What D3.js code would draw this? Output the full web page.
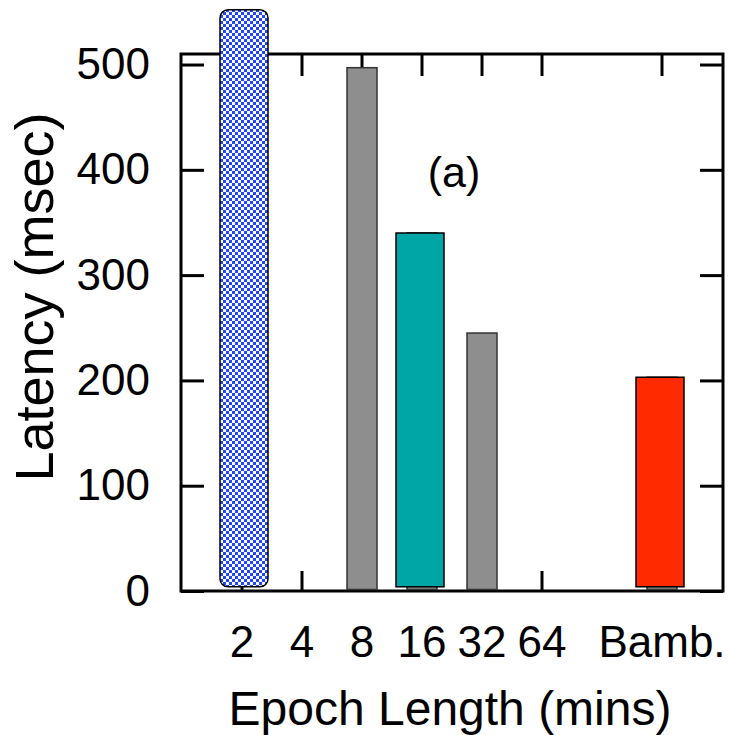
<!DOCTYPE html>
<html>
<head>
<meta charset="utf-8">
<script src="https://cdn.jsdelivr.net/npm/d3@7"></script>
<style>
  body { margin: 0; background: #fff; }
  text { font-family: "Liberation Sans", Arial, Helvetica, sans-serif; fill: #000; }
</style>
</head>
<body>
<div id="chart-area"></div>
<script>
// Epoch length vs latency, panel (a)
const categories = ["2", "4", "8", "16", "32", "64", "gap", "Bamb."]
const tickLabels = ["2", "4", "8", "16", "32", "64", "Bamb."]
const yTicks = [0, 100, 200, 300, 400, 500]

// gray series (all epochs), values behind the coloured bars are hidden
const grayValues = [0, 0, 497, 340, 245, 0, 203]
// highlighted bars
const blueValue = { cat: "2", value: 552 }
const tealValue = { cat: "16", value: 340 }
const redValue = { cat: "Bamb.", value: 203 }

const W = 731, H = 735
const MARGIN = { LEFT: 181, RIGHT: 8, TOP: 54, BOTTOM: 144 }
const WIDTH = W - MARGIN.LEFT - MARGIN.RIGHT
const HEIGHT = H - MARGIN.TOP - MARGIN.BOTTOM

const svg = d3.select("#chart-area").append("svg")
    .attr("width", W)
    .attr("height", H)

// blue checker pattern
const pat = svg.append("defs").append("pattern")
    .attr("id", "checker")
    .attr("width", 6).attr("height", 6)
    .attr("patternUnits", "userSpaceOnUse")
pat.append("rect").attr("width", 6).attr("height", 6).attr("fill", "#fff")
pat.append("rect").attr("width", 3).attr("height", 3).attr("fill", "#1f45ff").attr("shape-rendering", "crispEdges")
pat.append("rect").attr("x", 3).attr("y", 3).attr("width", 3).attr("height", 3).attr("fill", "#1f45ff").attr("shape-rendering", "crispEdges")

const g = svg.append("g")
    .attr("transform", `translate(${MARGIN.LEFT}, ${MARGIN.TOP})`)

const x = d3.scaleBand()
    .domain(categories)
    .range([31, 511])
    .padding(0)

const y = d3.scaleLinear()
    .domain([0, 510])
    .range([HEIGHT, 0])

const cx = d => x(d) + x.bandwidth() / 2

// axes, ticks point inwards
const xCats = categories.filter(c => c !== "gap")

const yLeft = g.append("g")
    .call(d3.axisLeft(y).tickValues(yTicks).tickSizeInner(-23).tickSizeOuter(0).tickPadding(31))
yLeft.select(".domain").remove()
yLeft.selectAll("line").attr("stroke", "#000").attr("stroke-width", 3)
yLeft.selectAll("text").attr("font-size", "44px")

const yRight = g.append("g")
    .attr("transform", `translate(${WIDTH}, 0)`)
    .call(d3.axisRight(y).tickValues(yTicks).tickSizeInner(-23).tickSizeOuter(0).tickFormat(""))
yRight.select(".domain").remove()
yRight.selectAll("line").attr("stroke", "#000").attr("stroke-width", 3)

const xBottom = g.append("g")
    .attr("transform", `translate(0, ${HEIGHT})`)
    .call(d3.axisBottom(x).tickValues(xCats).tickSizeInner(-20).tickSizeOuter(0).tickPadding(35)
        .tickFormat((d, i) => tickLabels[i]))
xBottom.select(".domain").remove()
xBottom.selectAll("line").attr("stroke", "#000").attr("stroke-width", 3)
xBottom.selectAll("text").attr("font-size", "44px")

const xTop = g.append("g")
    .call(d3.axisTop(x).tickValues(xCats).tickSizeInner(-22).tickSizeOuter(0).tickFormat(""))
xTop.select(".domain").remove()
xTop.selectAll("line").attr("stroke", "#000").attr("stroke-width", 3)

// frame
g.append("rect")
    .attr("width", WIDTH)
    .attr("height", HEIGHT)
    .attr("fill", "none")
    .attr("stroke", "#000")
    .attr("stroke-width", 3)

// gray bars
const grayData = xCats.map((c, i) => ({ cat: c, value: grayValues[i] })).filter(d => d.value > 0)
g.selectAll("rect.gray").data(grayData).enter().append("rect")
    .attr("class", "gray")
    .attr("x", d => cx(d.cat) - 15)
    .attr("y", d => y(d.value))
    .attr("width", 30)
    .attr("height", d => HEIGHT - y(d.value) - 1.5)
    .attr("fill", "#8e8e8e")
    .attr("stroke", "#333")
    .attr("stroke-width", 1.5)

// coloured bars sit a little above the baseline
const base = y(4)
const colored = [
    { d: tealValue, fill: "#00a5a5" },
    { d: redValue, fill: "#ff2a00" }
]
g.selectAll("rect.col").data(colored).enter().append("rect")
    .attr("class", "col")
    .attr("x", c => cx(c.d.cat) - 26)
    .attr("y", c => y(c.d.value))
    .attr("width", 48)
    .attr("height", c => base - y(c.d.value))
    .attr("fill", c => c.fill)
    .attr("stroke", "#000")
    .attr("stroke-width", 1.5)

g.append("rect")
    .attr("x", cx(blueValue.cat) - 22)
    .attr("y", y(blueValue.value))
    .attr("width", 48)
    .attr("height", base - y(blueValue.value))
    .attr("rx", 8)
    .attr("fill", "url(#checker)")
    .attr("stroke", "#000")
    .attr("stroke-width", 1.5)

// label (a)
g.append("text")
    .attr("x", cx("16") + 32)
    .attr("y", y(384))
    .attr("font-size", "43px")
    .attr("text-anchor", "middle")
    .text("(a)")

// axis titles
svg.append("text")
    .attr("x", 450)
    .attr("y", 725)
    .attr("font-size", "48px")
    .attr("text-anchor", "middle")
    .text("Epoch Length (mins)")

svg.append("text")
    .attr("transform", "translate(53, 297) rotate(-90)")
    .attr("font-size", "54px")
    .attr("text-anchor", "middle")
    .text("Latency (msec)")
</script>
</body>
</html>
